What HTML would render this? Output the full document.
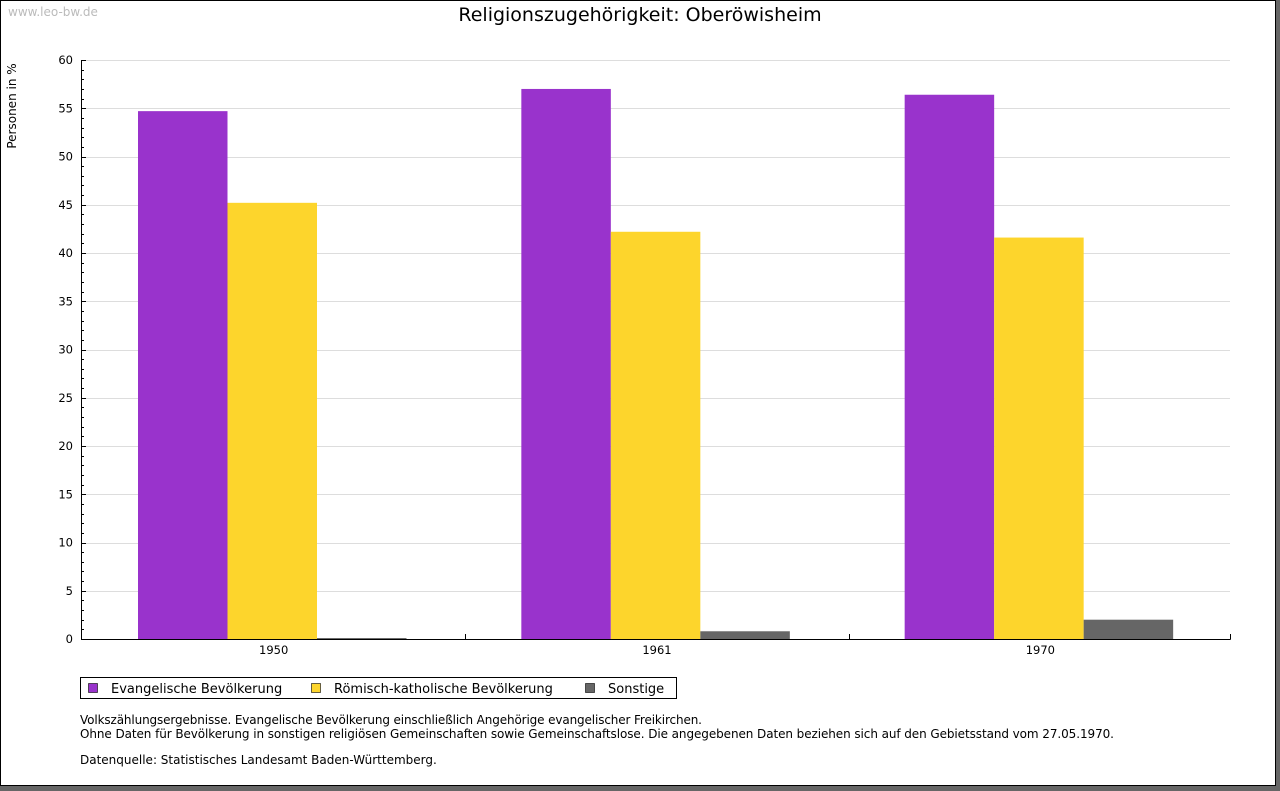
<!DOCTYPE html>
<html><head><meta charset="utf-8"><style>
body{margin:0;width:1280px;height:791px;overflow:hidden;background:#666;font-family:"DejaVu Sans","Liberation Sans",sans-serif;}
#frame{position:absolute;left:0;top:0;width:1274px;height:784px;border:1px solid #000;background:#fff;}
</style></head><body>
<div id="frame"></div>
<svg id="chart" width="1280" height="791" style="position:absolute;left:0;top:0">
<text x="8" y="16" font-size="12" fill="#bbb">www.leo-bw.de</text>
<text x="640" y="21" font-size="19" text-anchor="middle" fill="#000">Religionszugehörigkeit: Oberöwisheim</text>
<text transform="translate(16,106) rotate(-90)" font-size="12" text-anchor="middle">Personen in %</text>
<g id="grid"></g><g id="bars"></g><g id="axes"></g>
<g>
<rect x="80.5" y="677.5" width="596" height="21" fill="#fff" stroke="#000"/>
<rect x="88.5" y="683.5" width="9" height="9" fill="#9933cc" stroke="#000" stroke-width="0.6"/>
<text x="111" y="693" font-size="13">Evangelische Bevölkerung</text>
<rect x="311.5" y="683.5" width="9" height="9" fill="#fdd52c" stroke="#000" stroke-width="0.6"/>
<text x="334" y="693" font-size="13">Römisch-katholische Bevölkerung</text>
<rect x="585.5" y="683.5" width="9" height="9" fill="#666" stroke="#000" stroke-width="0.6"/>
<text x="608" y="693" font-size="13">Sonstige</text>
</g>
<g font-size="12">
<text x="80" y="724" textLength="622">Volkszählungsergebnisse. Evangelische Bevölkerung einschließlich Angehörige evangelischer Freikirchen.</text>
<text x="80" y="738" textLength="1034">Ohne Daten für Bevölkerung in sonstigen religiösen Gemeinschaften sowie Gemeinschaftslose. Die angegebenen Daten beziehen sich auf den Gebietsstand vom 27.05.1970.</text>
<text x="80" y="764">Datenquelle: Statistisches Landesamt Baden-Württemberg.</text>
</g>
</svg>
<script>
const categories=["1950","1961","1970"];
const evangelisch=[54.7,57.0,56.4];
const katholisch=[45.2,42.2,41.6];
const sonstige=[0.1,0.8,2.0];
const yTicks=[0,5,10,15,20,25,30,35,40,45,50,55,60];
const NS="http://www.w3.org/2000/svg";
const x0=82,x1=1230,yb=639,yt=60,ymax=60;
const y=v=>yb-(v/ymax)*(yb-yt);
const gw=(x1+2-x0)/categories.length;
function mk(tag,attrs,parent){const e=document.createElementNS(NS,tag);for(const k in attrs)e.setAttribute(k,attrs[k]);parent.appendChild(e);return e;}
const grid=document.getElementById('grid'),bars=document.getElementById('bars'),axes=document.getElementById('axes');
yTicks.forEach(t=>{
  if(t>0){const l=mk('line',{x1:x0,x2:x1,y1:Math.round(y(t))+0.5,y2:Math.round(y(t))+0.5,stroke:'#ddd'},grid);
  
  }
  const tx=mk('text',{x:73,y:y(t)+4,'font-size':11.5,'text-anchor':'end'},axes);tx.textContent=t;
  
  
  mk('line',{x1:81,x2:86,y1:Math.round(y(t))+0.5,y2:Math.round(y(t))+0.5,stroke:'#000'},axes);
});
for(let v=0;v<ymax;v++){if(v%5)mk('line',{x1:81,x2:84,y1:Math.round(y(v))+0.5,y2:Math.round(y(v))+0.5,stroke:'#000'},axes);}
const series=[[evangelisch,'#9933cc','evangelisch'],[katholisch,'#fdd52c','katholisch'],[sonstige,'#666666','sonstige']];
const bw=89.5,off=56;
categories.forEach((c,i)=>{
  const gx=x0+i*gw;
  series.forEach((s,j)=>{
    const v=s[0][i];const r=mk('rect',{x:gx+off+j*bw,y:y(v),width:bw,height:yb-y(v),fill:s[1]},bars);
    
    
  });
  const tx=mk('text',{x:gx+gw/2,y:654,'font-size':11.5,'text-anchor':'middle'},axes);tx.textContent=c;
  
  
  if(i>0)mk('line',{x1:Math.round(gx)+0.5,x2:Math.round(gx)+0.5,y1:yb-5,y2:yb,stroke:'#000'},axes);
});
const ya=mk('line',{x1:81.5,x2:81.5,y1:yt,y2:yb+0.5,stroke:'#000'},axes);


const xa=mk('line',{x1:81,x2:x1+0.5,y1:yb+0.5,y2:yb+0.5,stroke:'#000'},axes);


mk('line',{x1:x1+0.5,x2:x1+0.5,y1:yb-5,y2:yb+0.5,stroke:'#000'},axes);
</script>
</body></html>
